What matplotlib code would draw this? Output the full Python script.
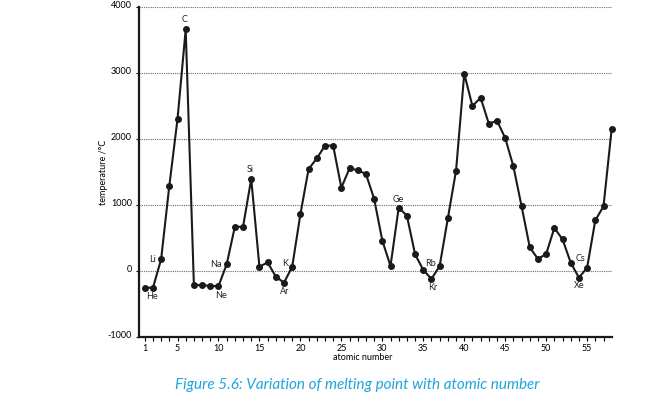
#!/usr/bin/env python3
"""Melting point vs atomic number, recreated from a textbook figure."""
import matplotlib
matplotlib.use("Agg")
import matplotlib.pyplot as plt
import matplotlib.transforms as mtransforms

# atomic numbers 1..58 and melting points (deg C)
atomic_number = list(range(1, 59))
melting_point = [
    -250, -255, 177, 1290, 2300, 3660, -210, -215, -225, -230,
    100, 670, 670, 1395, 65, 130, -85, -177, 65, 860,
    1545, 1705, 1900, 1900, 1262, 1556, 1526, 1470, 1095, 460,
    76, 960, 838, 253, 15, -121, 76, 798, 1520, 2990,
    2500, 2626, 2232, 2277, 2015, 1586, 980, 359, 182, 258,
    652, 480, 126, -101, 50, 768, 980, 2156,
]

# element labels: (symbol, atomic number, label offset in points)
labels = [
    ("He", 2, (-1, -6)), ("Li", 3, (-6.5, 0)), ("C", 6, (-0.5, 7)),
    ("Ne", 10, (1.5, -7)), ("Na", 11, (-8, 0)), ("Si", 14, (-0.5, 6.5)),
    ("Ar", 18, (0.7, -6)), ("K", 19, (-5, 2)), ("Ge", 32, (0, 6)),
    ("Kr", 36, (0.7, -6)), ("Rb", 37, (-6.5, 2)), ("Xe", 54, (0, -6)),
    ("Cs", 55, (-5, 6.5)),
]

y_ticks = [-1000, 0, 1000, 2000, 3000, 4000]
x_tick_labels = [1, 5, 10, 15, 20, 25, 30, 35, 40, 45, 50, 55]

plt.rcParams["font.family"] = ["Lato", "DejaVu Sans"]

fig = plt.figure(figsize=(6.64, 4.03), dpi=100)
ax = fig.add_axes([139 / 664, 1 - 337 / 403, (611.7 - 139) / 664, 330 / 403])

for y in y_ticks[1:]:
    ax.axhline(y, color="#6a6a6a", lw=0.8, ls=(0, (1.0, 1.0)), zorder=1)

ax.plot(atomic_number, melting_point, color="#1a1a1a", lw=1.5,
        marker="o", ms=4, zorder=3, clip_on=False)

for sym, z, (dx, dy) in labels:
    ax.annotate(sym, (z, melting_point[z - 1]), xytext=(dx, dy),
                textcoords="offset points", ha="center", va="center",
                fontsize=6.5, color="#222222")

ax.set_xlim(0.3, 58)
ax.set_ylim(-1000, 4000)
ax.set_yticks(y_ticks)
ax.set_yticklabels([str(v) for v in y_ticks], fontsize=6.5)
ax.set_xticks(range(1, 58))
ax.set_xticklabels([str(v) if v in x_tick_labels else "" for v in range(1, 58)],
                   fontsize=6.5)
ax.tick_params(axis="x", length=3, width=0.8, pad=2)
ax.tick_params(axis="y", length=2, width=0.8, pad=3)

# the y labels sit a touch above their gridlines in the original
shift = mtransforms.ScaledTranslation(0, 2 / 72, fig.dpi_scale_trans)
for lbl in ax.get_yticklabels():
    lbl.set_transform(lbl.get_transform() + shift)

for side in ("top", "right"):
    ax.spines[side].set_visible(False)
for side in ("left", "bottom"):
    ax.spines[side].set_linewidth(1.6)
    ax.spines[side].set_color("#1a1a1a")

fig.text(103 / 664, 1 - 172 / 403, "temperature /°C", rotation=90,
         ha="center", va="center", fontsize=6.5)
fig.text(363 / 664, 1 - 358 / 403, "atomic number", ha="center", va="center",
         fontsize=6.5)
fig.text(357 / 664, 1 - 385.5 / 403,
         "Figure 5.6: Variation of melting point with atomic number",
         ha="center", va="center", fontsize=11, style="italic", color="#1ea4e0")

fig.savefig("out.png", dpi=100)
